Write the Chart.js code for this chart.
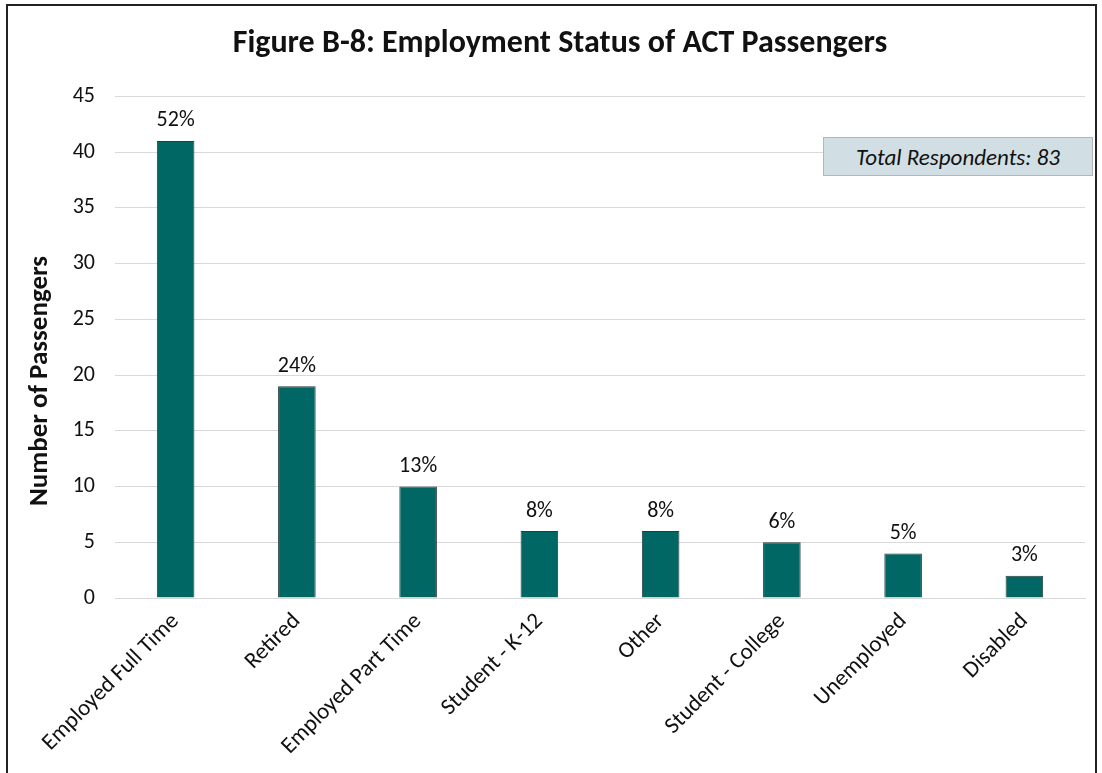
<!DOCTYPE html>
<html>
<head>
<meta charset="utf-8">
<script src="https://cdn.jsdelivr.net/npm/chart.js@4.4.1/dist/chart.umd.min.js"></script>
<style>
    html, body { margin: 0; padding: 0; background: #fff; overflow: hidden; }
    #wrap { position: relative; width: 1102px; height: 773px; }
    #frame {
        position: absolute; left: 6px; top: 4px; width: 1091px; height: 780px;
        border: 2px solid #222; box-sizing: border-box;
    }
    #chart { position: absolute; left: 0; top: 0; }
    #respBox {
        position: absolute; left: 823px; top: 137px; width: 270px; height: 39px;
        background: #d1dfe4; border: 1px solid #b5b5b5; box-sizing: border-box;
        font: italic 23px Carlito, Lato, sans-serif; color: #111;
        display: flex; align-items: center; justify-content: center;
    }
</style>
</head>
<body>
<div id="wrap">
    <div id="frame"></div>
    <canvas id="chart" width="1102" height="773"></canvas>
    <div id="respBox">Total Respondents: 83</div>
</div>
<script>
// Employment status categories and counts
const categories = ['Employed Full Time', 'Retired', 'Employed Part Time', 'Student - K-12',
    'Other', 'Student - College', 'Unemployed', 'Disabled'];
const passengers = [41, 19, 10, 6, 6, 5, 4, 2];
const percentLabels = ['52%', '24%', '13%', '8%', '8%', '6%', '5%', '3%'];
const yTicks = [0, 5, 10, 15, 20, 25, 30, 35, 40, 45];
const yTitle = 'Number of Passengers';

const FONT = 'Carlito, Lato, sans-serif';

// % labels above each bar + the rotated y axis title
const extraText = {
    id: 'extraText',
    afterDatasetsDraw(chart) {
        const ctx = chart.ctx;
        const meta = chart.getDatasetMeta(0);
        ctx.save();
        ctx.font = '22px ' + FONT;
        ctx.fillStyle = '#111';
        ctx.textAlign = 'center';
        ctx.textBaseline = 'bottom';
        meta.data.forEach((bar, i) => {
            ctx.fillText(percentLabels[i], bar.x, bar.y - 9);
        });

        // Excel centres this a bit lower than the plot area
        ctx.translate(40, 381);
        ctx.rotate(-Math.PI / 2);
        ctx.font = 'bold 27px ' + FONT;
        ctx.textBaseline = 'middle';
        ctx.fillText(yTitle, 0, 0);
        ctx.restore();
    }
};

new Chart(document.getElementById('chart'), {
    type: 'bar',
    data: {
        labels: categories,
        datasets: [{
            data: passengers,
            backgroundColor: '#006765',
            borderColor: '#2b3b3a',
            borderWidth: 1,
            categoryPercentage: 1,
            barPercentage: 0.31
        }]
    },
    options: {
        responsive: false,
        animation: false,
        layout: { padding: { left: 35, right: 17, top: 0, bottom: 0 } },
        plugins: {
            legend: { display: false },
            tooltip: { enabled: false },
            title: {
                display: true,
                text: 'Figure B-8: Employment Status of ACT Passengers',
                color: '#111',
                font: { family: FONT, size: 32, weight: 'bold' },
                padding: { top: 25, bottom: 33 }
            }
        },
        scales: {
            x: {
                grid: { display: false, drawTicks: false },
                border: { display: true, color: '#d9d9d9', width: 1 },
                ticks: {
                    color: '#111',
                    font: { family: FONT, size: 23 },
                    minRotation: 45,
                    maxRotation: 45,
                    padding: 10
                },
                afterFit(scale) { scale.height = 175; }
            },
            y: {
                min: 0,
                max: 45,
                afterBuildTicks(scale) { scale.ticks = yTicks.map(v => ({ value: v })); },
                grid: { color: '#d9d9d9', drawTicks: false },
                border: { display: false },
                ticks: {
                    color: '#111',
                    font: { family: FONT, size: 22 },
                    padding: 20
                },
                afterFit(scale) { scale.width = 80; }
            }
        }
    },
    plugins: [extraText]
});
</script>
</body>
</html>
